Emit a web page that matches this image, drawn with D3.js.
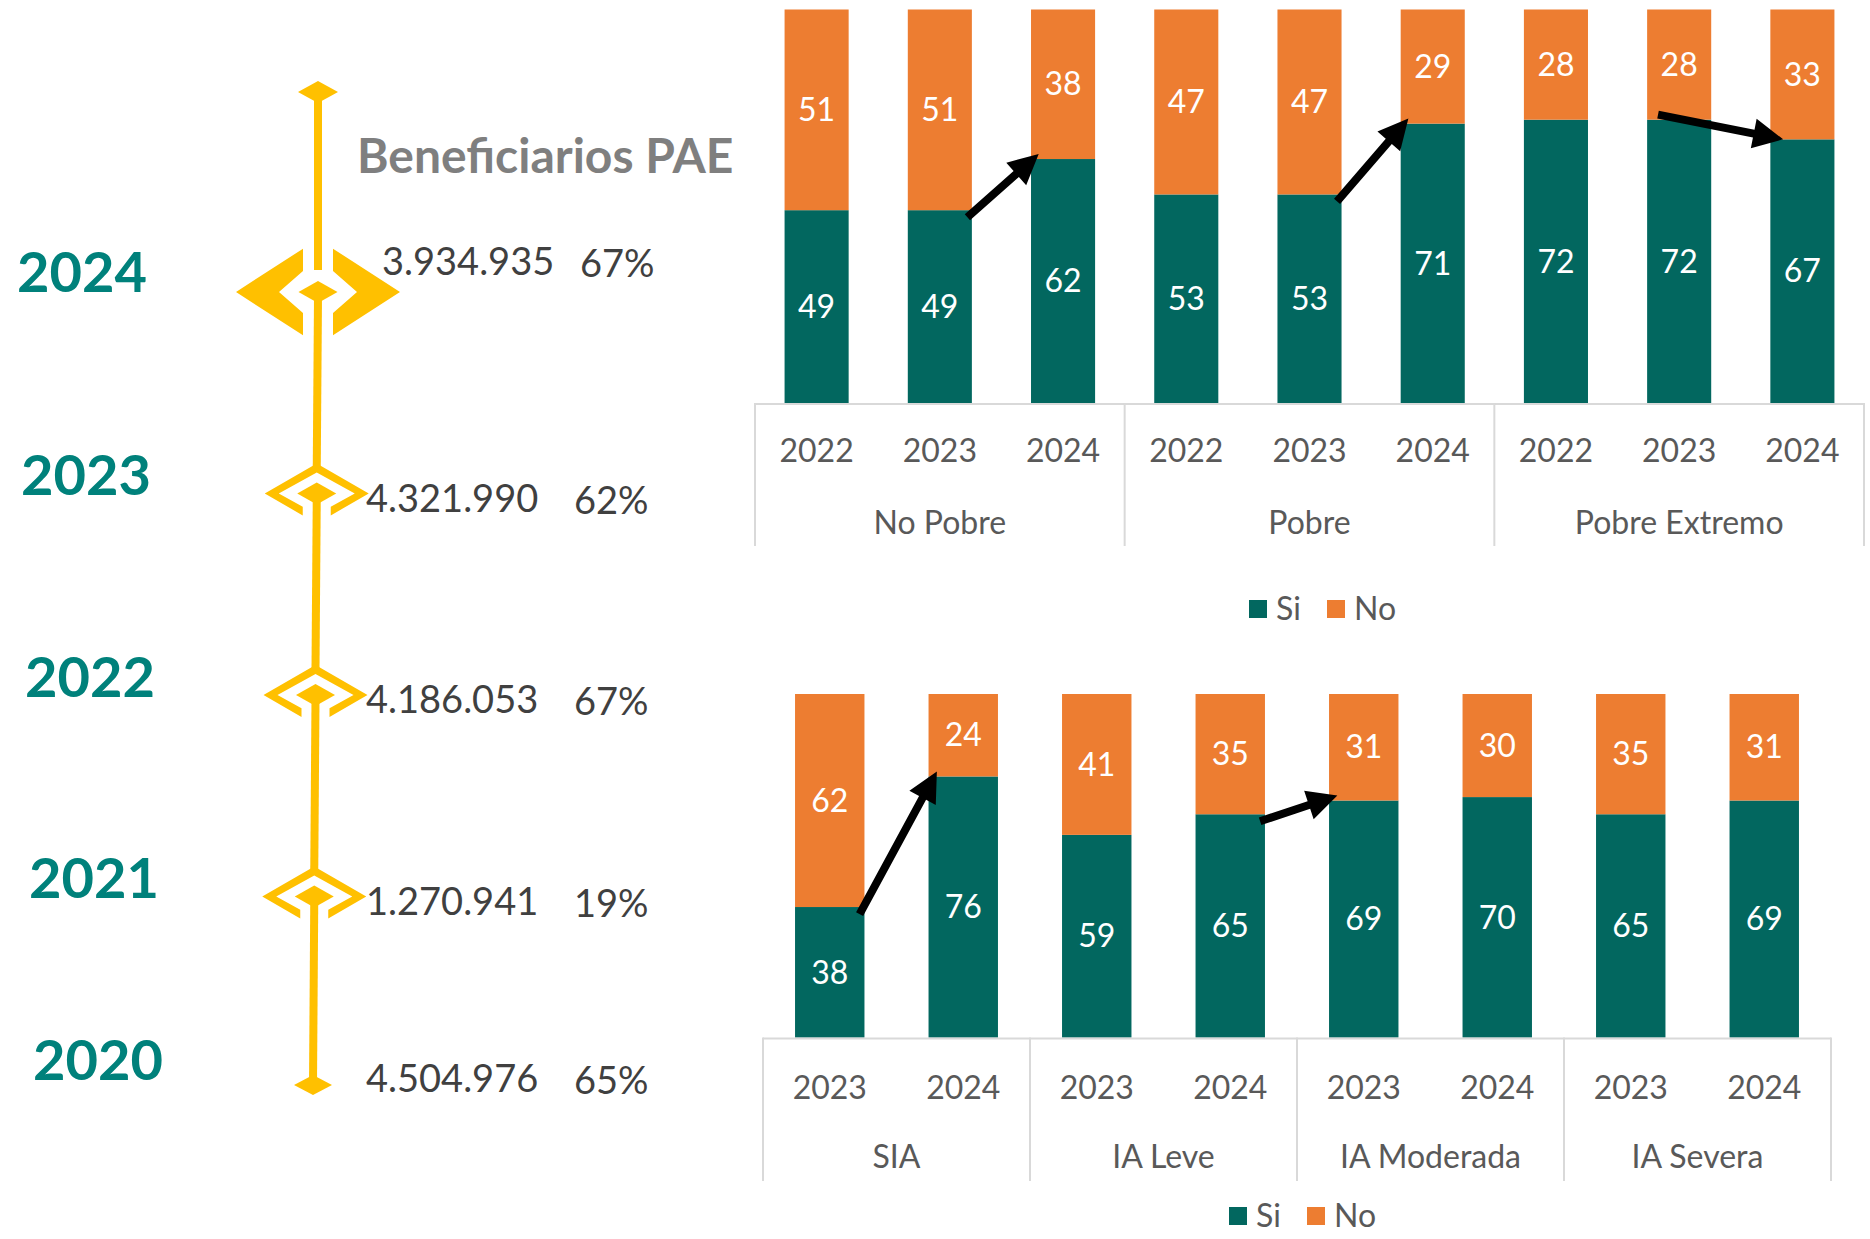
<!DOCTYPE html>
<html>
<head>
<meta charset="utf-8">
<script src="https://cdn.jsdelivr.net/npm/d3@7"></script>
<style>
    body { margin: 0; background: #fff; }
    text { font-family: Lato, "Open Sans", sans-serif; }
</style>
</head>
<body>
<svg id="chart"></svg>
<script>
// timeline data
const timelineYears = [2024, 2023, 2022, 2021, 2020];
const beneficiarios = ["3.934.935", "4.321.990", "4.186.053", "1.270.941", "4.504.976"];
const cobertura = ["67%", "62%", "67%", "19%", "65%"];

// top panel: pobreza
const pobrezaGroups = ["No Pobre", "Pobre", "Pobre Extremo"];
const pobrezaYears = ["2022", "2023", "2024"];
const pobrezaSi = [[49, 49, 62], [53, 53, 71], [72, 72, 67]];
const pobrezaNo = [[51, 51, 38], [47, 47, 29], [28, 28, 33]];
const pobrezaArrows = [
    ["No Pobre", "2023", "No Pobre", "2024"],
    ["Pobre", "2023", "Pobre", "2024"],
    ["Pobre Extremo", "2023", "Pobre Extremo", "2024"]
];

// bottom panel: inseguridad alimentaria
const iaGroups = ["SIA", "IA Leve", "IA Moderada", "IA Severa"];
const iaYears = ["2023", "2024"];
const iaSi = [[38, 76], [59, 65], [69, 70], [65, 69]];
const iaNo = [[62, 24], [41, 35], [31, 30], [35, 31]];
const iaArrows = [
    ["SIA", "2023", "SIA", "2024"],
    ["IA Leve", "2024", "IA Moderada", "2023"]
];

const seriesNames = ["Si", "No"];

const W = 1870, H = 1239;
const teal = "#02675F", orange = "#ED7D31", gold = "#FFC000";
const yearTeal = "#00817B", axisGrey = "#D9D9D9", labelGrey = "#595959";

const svg = d3.select("#chart").attr("width", W).attr("height", H);
svg.append("rect").attr("width", W).attr("height", H).attr("fill", "#fff");

// ---------- timeline ----------
const ty = d3.scalePoint().domain(timelineYears).range([292, 1098]);
const tx = d3.scaleLinear().domain([2024, 2020]).range([318, 313]);
const labelX = d3.scaleLinear().domain([2024, 2020]).range([17, 33]);
const endY = ty(2020) - 13;

const tl = svg.append("g").attr("class", "timeline");

function diamond(cx, cy, hw, hh) {
    return `M${cx - hw},${cy}L${cx},${cy - hh}L${cx + hw},${cy}L${cx},${cy + hh}Z`;
}

// line segments between markers
const segs = [[tx(2024), 92, tx(2024), ty(2024) - 22]];
for (let i = 0; i < timelineYears.length - 1; i++) {
    const a = timelineYears[i], b = timelineYears[i + 1];
    const y2 = b === 2020 ? endY : ty(b) - 26;
    segs.push([tx(a), ty(a) + 5, tx(b), y2]);
}
tl.selectAll(".seg").data(segs).enter().append("line")
    .attr("x1", d => d[0]).attr("y1", d => d[1])
    .attr("x2", d => d[2]).attr("y2", d => d[3])
    .attr("stroke", gold).attr("stroke-width", 8);

// top end diamond
tl.append("path").attr("d", diamond(tx(2024), 92, 20, 11)).attr("fill", gold);

// markers and texts
timelineYears.forEach((yr, i) => {
    const cx = tx(yr), cy = ty(yr);
    if (i === 0) {
        const Wo = 82, Ho = 53, wi = 39, hi = 34, g = 15;
        const oy = Ho * (1 - g / Wo), iy = hi * (1 - g / wi);
        [-1, 1].forEach(s => {
            const pts = [[-Wo, 0], [-g, -oy], [-g, -iy], [-wi, 0], [-g, iy], [-g, oy]]
                .map(p => [cx + s * p[0], cy + p[1]]);
            tl.append("path").attr("d", d3.line()(pts) + "Z").attr("fill", gold);
        });
        tl.append("path").attr("d", diamond(cx, cy, 19.5, 11)).attr("fill", gold);
    } else if (yr === 2020) {
        tl.append("path").attr("d", diamond(cx, endY, 19, 10)).attr("fill", gold);
    } else {
        const Wo = 52, Ho = 30, wi = 38, hi = 21, g = 14;
        const oy = Ho * (1 - g / Wo), iy = hi * (1 - g / wi);
        const pts = [[-g, oy], [-Wo, 0], [0, -Ho], [Wo, 0], [g, oy], [g, iy], [wi, 0], [0, -hi], [-wi, 0], [-g, iy]]
            .map(p => [cx + p[0], cy + p[1]]);
        tl.append("path").attr("d", d3.line()(pts) + "Z").attr("fill", gold);
        tl.append("path").attr("d", diamond(cx, cy, 19.5, 11)).attr("fill", gold);
    }

    let yearY = cy - 18, numY = cy + 5;
    if (i === 0) { yearY = cy - 20; numY = cy - 30; }
    if (yr === 2020) { yearY = cy - 38; numY = cy - 19; }

    tl.append("text")
        .attr("x", labelX(yr)).attr("y", yearY)
        .attr("dy", "0.35em")
        .attr("font-size", 56).attr("font-weight", 700)
        .attr("fill", yearTeal)
        .text(yr);
    tl.append("text")
        .attr("x", i === 0 ? 382 : 366).attr("y", numY)
        .attr("dy", "0.35em")
        .attr("font-size", 38).attr("fill", "#404040")
        .text(beneficiarios[i]);
    tl.append("text")
        .attr("x", i === 0 ? 580 : 574).attr("y", numY + 2)
        .attr("dy", "0.35em")
        .attr("font-size", 38).attr("fill", "#404040")
        .text(cobertura[i]);
});

tl.append("text")
    .attr("x", 357).attr("y", 156).attr("dy", "0.35em")
    .attr("font-size", 48).attr("font-weight", 700)
    .attr("fill", "#7F7F7F")
    .text("Beneficiarios PAE");

// ---------- stacked bar panels ----------
function drawPanel(cfg) {
    const g = svg.append("g");
    const x0 = d3.scaleBand().domain(cfg.groups).range([cfg.left, cfg.right]);
    const x1 = d3.scaleBand().domain(cfg.years).range([0, x0.bandwidth()])
        .paddingInner(0.48).paddingOuter(0.24);
    const y = d3.scaleLinear().domain([0, 100]).range([cfg.bottom, cfg.top]);

    const rows = [];
    cfg.groups.forEach((grp, gi) => {
        cfg.years.forEach((yr, yi) => {
            rows.push({ group: grp, year: yr, si: cfg.si[gi][yi], no: cfg.no[gi][yi] });
        });
    });
    const segsData = rows.flatMap(r => [
        { r, key: "Si", y0: 0, y1: r.si, color: teal },
        { r, key: "No", y0: r.si, y1: r.si + r.no, color: orange }
    ]);

    g.selectAll(".bar").data(segsData).enter().append("rect")
        .attr("x", d => x0(d.r.group) + x1(d.r.year))
        .attr("width", x1.bandwidth())
        .attr("y", d => y(d.y1))
        .attr("height", d => y(d.y0) - y(d.y1))
        .attr("fill", d => d.color);

    g.selectAll(".lbl").data(segsData).enter().append("text")
        .attr("x", d => x0(d.r.group) + x1(d.r.year) + x1.bandwidth() / 2)
        .attr("y", d => y((d.y0 + d.y1) / 2))
        .attr("dy", "0.35em")
        .attr("text-anchor", "middle")
        .attr("font-size", 32).attr("fill", "#fff")
        .text(d => d.y1 - d.y0);

    // category axis
    g.append("line")
        .attr("x1", cfg.left).attr("x2", cfg.right)
        .attr("y1", cfg.bottom + 1).attr("y2", cfg.bottom + 1)
        .attr("stroke", axisGrey).attr("stroke-width", 2);
    const seps = cfg.groups.map(d => x0(d)).concat([cfg.right]);
    g.selectAll(".sep").data(seps).enter().append("line")
        .attr("x1", d => d).attr("x2", d => d)
        .attr("y1", cfg.bottom).attr("y2", cfg.sepBottom)
        .attr("stroke", axisGrey).attr("stroke-width", 2);

    g.selectAll(".yr").data(rows).enter().append("text")
        .attr("x", d => x0(d.group) + x1(d.year) + x1.bandwidth() / 2)
        .attr("y", cfg.yearY).attr("dy", "0.35em")
        .attr("text-anchor", "middle")
        .attr("font-size", 32).attr("fill", labelGrey)
        .text(d => d.year);
    g.selectAll(".grp").data(cfg.groups).enter().append("text")
        .attr("x", d => x0(d) + x0.bandwidth() / 2)
        .attr("y", cfg.groupY).attr("dy", "0.35em")
        .attr("text-anchor", "middle")
        .attr("font-size", 32).attr("fill", labelGrey)
        .text(d => d);

    // legend
    const lg = g.append("g").attr("transform", `translate(${cfg.legendX},${cfg.legendY})`);
    seriesNames.forEach((name, i) => {
        const ox = i * 78;
        lg.append("rect").attr("x", ox).attr("y", -9).attr("width", 18).attr("height", 18)
            .attr("fill", i === 0 ? teal : orange);
        lg.append("text").attr("x", ox + 27).attr("y", 0).attr("dy", "0.35em")
            .attr("font-size", 32).attr("fill", labelGrey).text(name);
    });

    // arrows
    const bw = x1.bandwidth();
    const siOf = (grp, yr) => rows.find(r => r.group === grp && r.year === yr).si;
    cfg.arrows.forEach(a => {
        const xa = x0(a[0]) + x1(a[1]), xb = x0(a[2]) + x1(a[3]);
        const ya = y(siOf(a[0], a[1])), yb = y(siOf(a[2], a[3]));
        let S, T;
        if (yb < ya) {
            S = [xa + 0.93 * bw, ya + 7];
            T = [xb + 0.12 * bw, yb - 5];
        } else {
            S = [xa + 0.17 * bw, ya - 5];
            T = [xb + 0.2 * bw, yb];
        }
        const len = Math.hypot(T[0] - S[0], T[1] - S[1]);
        const u = [(T[0] - S[0]) / len, (T[1] - S[1]) / len];
        const n = [-u[1], u[0]];
        const hl = 30, hw = 15, sw = 4;
        const B = [T[0] - u[0] * hl, T[1] - u[1] * hl];
        const pt = (p, k) => [p[0] + n[0] * k, p[1] + n[1] * k];
        const pts = [pt(S, sw), pt(B, sw), pt(B, hw), T, pt(B, -hw), pt(B, -sw), pt(S, -sw)];
        g.append("path").attr("d", d3.line()(pts) + "Z").attr("fill", "#000");
    });
}

drawPanel({
    groups: pobrezaGroups, years: pobrezaYears, si: pobrezaSi, no: pobrezaNo,
    left: 755, right: 1864, top: 9.5, bottom: 403, sepBottom: 546,
    yearY: 451, groupY: 523, legendX: 1249, legendY: 609, arrows: pobrezaArrows
});

drawPanel({
    groups: iaGroups, years: iaYears, si: iaSi, no: iaNo,
    left: 763, right: 1831, top: 694, bottom: 1037.6, sepBottom: 1181,
    yearY: 1088, groupY: 1157, legendX: 1229, legendY: 1216, arrows: iaArrows
});
</script>
</body>
</html>
